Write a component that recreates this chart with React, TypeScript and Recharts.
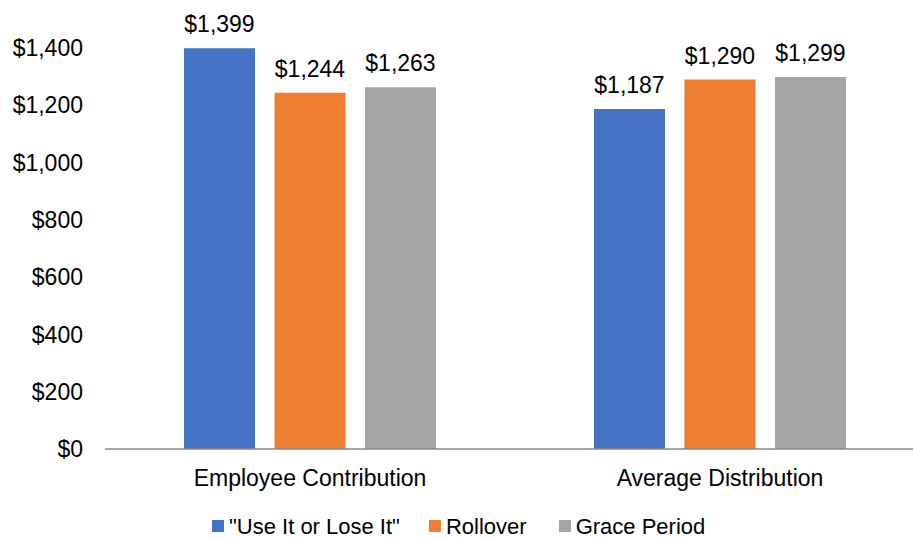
import { BarChart, Bar, XAxis, YAxis, Legend, LabelList } from 'recharts'

const categories = ['Employee Contribution', 'Average Distribution']
const useItOrLoseIt = [1399, 1187]
const rollover = [1244, 1290]
const gracePeriod = [1263, 1299]
const yTicks = [0, 200, 400, 600, 800, 1000, 1200, 1400]

const seriesInfo = [
    { key: 'useIt', name: '"Use It or Lose It"', color: '#4472C4' },
    { key: 'rollover', name: 'Rollover', color: '#ED7D31' },
    { key: 'grace', name: 'Grace Period', color: '#A5A5A5' }
]

const data = categories.map((name, i) => ({
    name,
    useIt: useItOrLoseIt[i],
    rollover: rollover[i],
    grace: gracePeriod[i]
}))

const FONT = '"Liberation Sans", Arial, sans-serif'
const money = (v: number) => `$${v.toLocaleString('en-US')}`

function LegendBox() {
    return (
        <div
            style={{
                height: 40,
                boxSizing: 'border-box',
                paddingTop: 15,
                paddingLeft: 212,
                display: 'flex',
                alignItems: 'flex-start',
                fontFamily: FONT,
                fontSize: 22,
                lineHeight: '25px',
                color: '#000'
            }}
        >
            {seriesInfo.map((s, i) => (
                <div key={s.key} style={{ display: 'flex', alignItems: 'center', marginRight: i === 0 ? 29 : 32 }}>
                    <span style={{ width: 12, height: 12, background: s.color, marginRight: 5, marginTop: -1 }} />
                    <span>{s.name}</span>
                </div>
            ))}
        </div>
    )
}

export default function App() {
    return (
        <div style={{ position: 'fixed', left: 0, top: 0, width: 913, height: 539, overflow: 'hidden', background: '#fff' }}>
            <BarChart
                width={930}
                height={539}
                data={data}
                margin={{ top: 48, right: 5, bottom: 0, left: 0 }}
                barSize={71}
                barGap={19.5}
                style={{ fontFamily: FONT }}
            >
                <XAxis
                    dataKey="name"
                    height={50}
                    tickLine={false}
                    axisLine={{ stroke: '#898989', strokeWidth: 1.5 }}
                    tickMargin={15}
                    tick={{ fill: '#000', fontSize: 23, fontFamily: FONT }}
                />
                <YAxis
                    width={105}
                    domain={[0, 1400]}
                    ticks={yTicks}
                    axisLine={false}
                    tickLine={false}
                    tickMargin={16}
                    tickFormatter={money}
                    tick={{ fill: '#000', fontSize: 23, fontFamily: FONT }}
                />
                <Legend verticalAlign="bottom" height={40} content={<LegendBox />} />
                {seriesInfo.map((s) => (
                    <Bar key={s.key} dataKey={s.key} name={s.name} fill={s.color} isAnimationActive={false}>
                        <LabelList
                            dataKey={s.key}
                            position="top"
                            offset={16}
                            formatter={(v: any) => money(Number(v))}
                            style={{ fill: '#000', fontSize: 23, fontFamily: FONT }}
                        />
                    </Bar>
                ))}
            </BarChart>
        </div>
    )
}
